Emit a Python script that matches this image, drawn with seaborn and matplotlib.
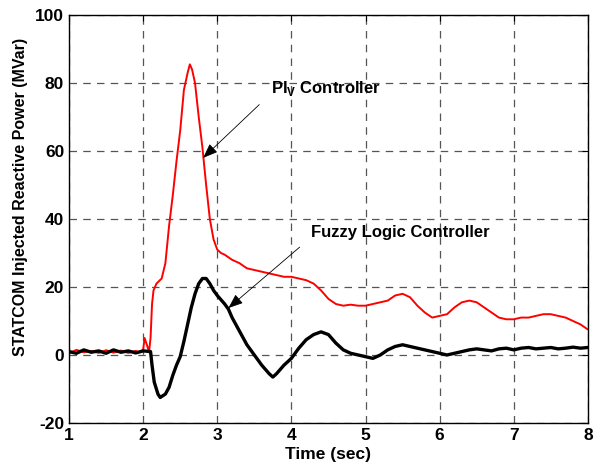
import pandas as pd
import seaborn as sns
import matplotlib.pyplot as plt

# red curve: PI_V controller
pi_t = [1.0, 1.1, 1.2, 1.3, 1.4, 1.5, 1.6, 1.7, 1.8, 1.9, 1.95, 2.0, 2.02, 2.05, 2.08,
        2.1, 2.12, 2.14, 2.18, 2.25, 2.3, 2.35, 2.4, 2.45, 2.5, 2.55, 2.6, 2.63, 2.66,
        2.7, 2.75, 2.8, 2.85, 2.9, 2.95, 3.0, 3.05, 3.1, 3.2, 3.3, 3.4, 3.5, 3.6, 3.7,
        3.8, 3.9, 4.0, 4.1, 4.2, 4.3, 4.4, 4.5, 4.6, 4.7, 4.8, 4.9, 5.0, 5.1, 5.2, 5.3,
        5.4, 5.5, 5.6, 5.7, 5.8, 5.9, 6.0, 6.1, 6.2, 6.3, 6.4, 6.5, 6.6, 6.7, 6.8, 6.9,
        7.0, 7.1, 7.2, 7.3, 7.4, 7.5, 7.6, 7.7, 7.8, 7.9, 8.0]
pi_q = [0.5, 1.5, 0.8, 1.2, 0.6, 1.4, 0.7, 1.3, 0.6, 1.2, 0.8, 1.5, 5, 3, 1,
        5, 15, 19, 21, 22.5, 27, 38, 47, 57, 66, 78, 83, 85.5, 84,
        80, 70, 61, 50, 40, 34, 31, 30, 29.5, 28, 27, 25.5, 25, 24.5, 24,
        23.5, 23, 23, 22.5, 22, 21, 19, 16.5, 15, 14.5, 14.8, 14.5, 14.5, 15, 15.5, 16,
        17.5, 18, 17, 14.5, 12.5, 11, 11.5, 12, 14, 15.5, 16, 15.5, 14, 12.5, 11, 10.5,
        10.5, 11, 11, 11.5, 12, 12, 11.5, 11, 10, 9, 7.5]

# black curve: fuzzy logic controller
fz_t = [1.0, 1.1, 1.2, 1.3, 1.4, 1.5, 1.6, 1.7, 1.8, 1.9, 2.0, 2.1, 2.12, 2.15, 2.2,
        2.23, 2.3, 2.35, 2.4, 2.45, 2.5, 2.55, 2.6, 2.65, 2.7, 2.75, 2.8, 2.85, 2.9,
        2.95, 3.0, 3.1, 3.15, 3.2, 3.3, 3.4, 3.5, 3.6, 3.7, 3.75, 3.8, 3.9, 4.0, 4.1,
        4.2, 4.3, 4.4, 4.5, 4.6, 4.7, 4.8, 4.9, 5.0, 5.1, 5.2, 5.3, 5.4, 5.5, 5.6, 5.7,
        5.8, 5.9, 6.0, 6.1, 6.2, 6.3, 6.4, 6.5, 6.6, 6.7, 6.8, 6.9, 7.0, 7.1, 7.2, 7.3,
        7.4, 7.5, 7.6, 7.7, 7.8, 7.9, 8.0]
fz_q = [1, 0.5, 1.5, 0.8, 1.2, 0.5, 1.5, 0.8, 1.2, 0.6, 1.2, 1, -3, -8, -11.5,
        -12.5, -11.5, -9.5, -6, -3, -0.5, 4, 9, 14, 18, 21, 22.5, 22.5, 21,
        19, 17.5, 15, 13.5, 11, 7, 3, 0, -3, -5.5, -6.5, -5.5, -3, -1, 2,
        4.5, 6, 6.8, 6, 3.5, 1.5, 0.5, 0, -0.5, -1, 0, 1.5, 2.5, 3, 2.5, 2,
        1.5, 1, 0.5, 0, 0.5, 1, 1.5, 1.8, 1.5, 1.2, 1.8, 2, 1.5, 2, 2.2, 1.8,
        2, 2.2, 1.8, 2, 2.3, 2, 2.2]

x_ticks = [1, 2, 3, 4, 5, 6, 7, 8]
y_ticks = [-20, 0, 20, 40, 60, 80, 100]

df_pi = pd.DataFrame({'t': pi_t, 'q': pi_q})
df_fz = pd.DataFrame({'t': fz_t, 'q': fz_q})

sns.set_style('white')
plt.rcParams['font.family'] = ['Liberation Sans', 'DejaVu Sans']
plt.rcParams['font.weight'] = 'bold'
plt.rcParams['text.color'] = 'black'
plt.rcParams['axes.labelcolor'] = 'black'
plt.rcParams['xtick.color'] = 'black'
plt.rcParams['ytick.color'] = 'black'
plt.rcParams['axes.unicode_minus'] = False
plt.rcParams['mathtext.fontset'] = 'custom'
plt.rcParams['mathtext.bf'] = 'Liberation Sans:bold'
plt.rcParams['mathtext.rm'] = 'Liberation Sans:bold'

fig = plt.figure(figsize=(5.95, 4.71), dpi=100)
ax = fig.add_axes([0.116, 0.102, 0.872, 0.866])

sns.lineplot(data=df_pi, x='t', y='q', color='red', linewidth=1.4, ax=ax)
sns.lineplot(data=df_fz, x='t', y='q', color='black', linewidth=2.4, ax=ax)

ax.set_xlim(1, 8)
ax.set_ylim(-20, 100)
ax.set_xticks(x_ticks)
ax.set_yticks(y_ticks)
ax.grid(True, color='#555555', linestyle=(0, (6, 5)), linewidth=0.9)
ax.tick_params(direction='in', length=4, top=True, right=True, labelsize=12.5)
for s in ax.spines.values():
    s.set_color('black')
    s.set_linewidth(1.0)

ax.set_xlabel('Time (sec)', fontsize=12.5, fontweight='bold', labelpad=3)
ax.set_ylabel('STATCOM Injected Reactive Power (MVar)', fontsize=11.5,
              fontweight='bold')
ax.yaxis.set_label_coords(-0.08, 0.554)

arrow = dict(arrowstyle='-|>,head_width=0.35,head_length=0.9', color='black',
             lw=0.6, mutation_scale=10)
ax.annotate(r'PI$_{\mathbf{V}}$ Controller', xy=(2.81, 58), xytext=(3.72, 78.5),
            fontsize=12, fontweight='bold', va='center', ha='left',
            arrowprops=dict(arrow, shrinkA=8, shrinkB=0, relpos=(0, 0.2)))
ax.annotate('Fuzzy Logic Controller', xy=(3.15, 13.8), xytext=(4.27, 36),
            fontsize=12, fontweight='bold', va='center', ha='left',
            arrowprops=dict(arrow, shrinkA=8, shrinkB=0, relpos=(0, 0.2)))

fig.savefig('out.png', dpi=100)
